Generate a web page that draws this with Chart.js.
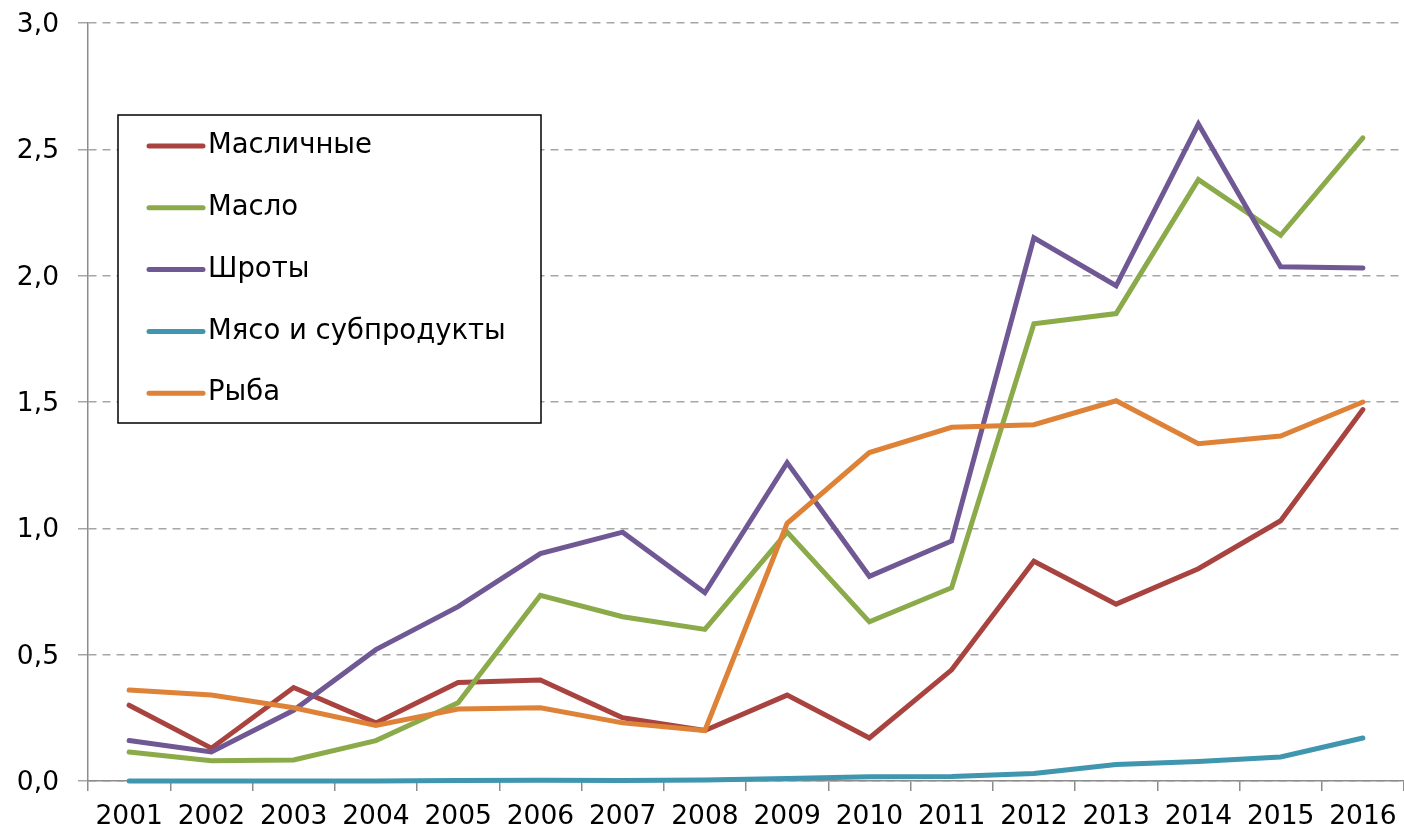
<!DOCTYPE html>
<html>
<head>
<meta charset="utf-8">
<script src="https://cdn.jsdelivr.net/npm/chart.js@4/dist/chart.umd.min.js"></script>
<style>
  html, body { margin:0; padding:0; background:#fff; }
  #wrap { width:1404px; height:833px; position:relative; }
</style>
</head>
<body>
<div id="wrap"><canvas id="chart"></canvas></div>
<script>
/* ── DATA ── */
const years = ["2001","2002","2003","2004","2005","2006","2007","2008","2009","2010","2011","2012","2013","2014","2015","2016"];
const maslichnye = [0.30,0.13,0.37,0.23,0.39,0.40,0.25,0.20,0.34,0.17,0.44,0.87,0.70,0.84,1.03,1.47];
const maslo      = [0.115,0.08,0.083,0.16,0.31,0.735,0.65,0.60,0.985,0.63,0.765,1.81,1.85,2.38,2.16,2.545];
const shroty     = [0.16,0.115,0.28,0.52,0.69,0.90,0.985,0.745,1.26,0.81,0.95,2.15,1.96,2.60,2.035,2.03];
const myaso      = [0.0,0.0,0.0,0.0,0.002,0.003,0.002,0.004,0.01,0.017,0.018,0.03,0.065,0.077,0.095,0.17];
const ryba       = [0.36,0.34,0.29,0.22,0.285,0.29,0.23,0.20,1.02,1.30,1.40,1.41,1.505,1.335,1.365,1.50];
const yTicks     = ["0,0","0,5","1,0","1,5","2,0","2,5","3,0"];

const FONT = "'DejaVu Sans', Arial, sans-serif";

/* ── LEGEND IN BOX ── */
const boxLegend = {
  id: "boxLegend",
  afterDraw(chart) {
    const { ctx, chartArea: a } = chart;
    const x0 = a.left + 30, y0 = a.top + 92, w = 423, h = 308;
    ctx.save();
    ctx.fillStyle = "#fff";
    ctx.fillRect(x0, y0, w, h);
    ctx.strokeStyle = "#000"; ctx.lineWidth = 1.5;
    ctx.strokeRect(x0, y0, w, h);
    const items = chart.data.datasets.slice().sort((p, q) => p.legendIdx - q.legendIdx);
    items.forEach((ds, i) => {
      const y = y0 + 31 + i * 61.8;
      ctx.strokeStyle = ds.borderColor; ctx.lineWidth = 5; ctx.lineCap = "round";
      ctx.beginPath(); ctx.moveTo(x0 + 31, y); ctx.lineTo(x0 + 85, y); ctx.stroke();
      ctx.fillStyle = "#000"; ctx.font = "27.5px " + FONT;
      ctx.textBaseline = "middle"; ctx.textAlign = "left";
      ctx.fillText(ds.label, x0 + 90, y);
    });
    ctx.restore();
  }
};

function line(label, data, color, order, legendIdx) {
  return { label, data, borderColor: color, backgroundColor: color, borderWidth: 5, clip: false,
    pointRadius: 0, tension: 0, borderCapStyle: "round", borderJoinStyle: "miter", order, legendIdx };
}

new Chart(document.getElementById("chart"), {
  type: "line",
  data: {
    labels: years,
    datasets: [
      line("Масличные", maslichnye, "#A9433F", 5, 0),
      line("Масло", maslo, "#8BAA4A", 4, 1),
      line("Шроты", shroty, "#6F5893", 3, 2),
      line("Мясо и субпродукты", myaso, "#3F96AE", 2, 3),
      line("Рыба", ryba, "#DE8238", 1, 4)
    ]
  },
  options: {
    responsive: true, maintainAspectRatio: false, animation: false,
    layout: { padding: { top: 23, right: 0, left: 0, bottom: 0 } },
    plugins: { legend: { display: false }, tooltip: { enabled: false } },
    scales: {
      x: {
        offset: true,
        grid: { display: true, drawOnChartArea: false, drawTicks: true, tickLength: 10, color: "#8c8c8c", lineWidth: 1.5, offset: true },
        border: { display: true, color: "#8c8c8c", width: 1.5 },
        ticks: { color: "#000", font: { family: FONT, size: 26.5 }, padding: 10, maxRotation: 0, autoSkip: false },
        afterFit: s => { s.height = 52; s.paddingLeft = 0; s.paddingRight = 0; }
      },
      y: {
        min: 0, max: 3,
        grid: { color: "#a6a6a6", lineWidth: 1.5, tickLength: 10, tickColor: "#a6a6a6", tickBorderDash: [] },
        border: { display: true, color: "#8c8c8c", width: 1.5, dash: [8, 6] },
        ticks: { stepSize: 0.5, color: "#000", font: { family: FONT, size: 26.5 }, padding: 19, labelOffset: 2,
          callback: (v, i) => yTicks[i] },
        afterFit: s => { s.width = 88; s.paddingTop = 0; s.paddingBottom = 0; }
      }
    }
  },
  plugins: [boxLegend]
});
</script>
</body>
</html>
